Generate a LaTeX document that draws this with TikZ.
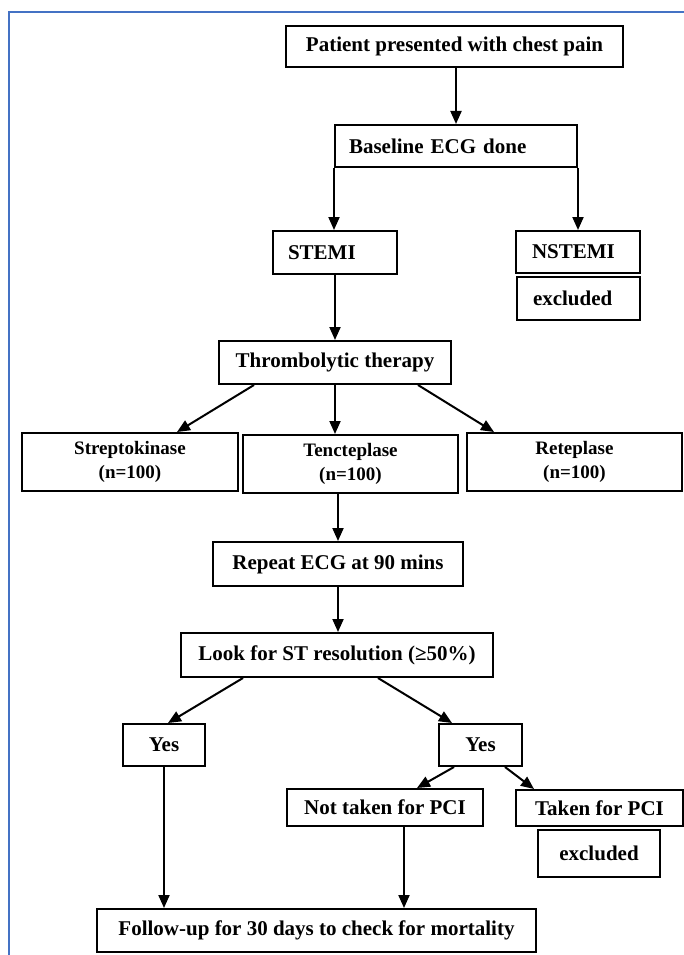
\documentclass[tikz,border=0pt]{standalone}
\usepackage{fontspec}
\setmainfont{Liberation Serif}
\usetikzlibrary{arrows.meta}
\definecolor{frameblue}{RGB}{68,114,196}
\begin{document}
\begin{tikzpicture}[x=1pt,y=-1pt,
  box/.style={draw, line width=2pt, inner sep=0pt, align=center,
    font=\fontsize{21}{24}\selectfont\bfseries},
  lbox/.style={box, align=left, inner xsep=14pt},
  smallbox/.style={box, font=\fontsize{19}{24}\selectfont\bfseries},
  arr/.style={line width=2pt, -{Triangle[length=13pt,width=11pt]}}]
\useasboundingbox (0,0) rectangle (684,955);
\fill[white] (0,0) rectangle (684,955);
\draw[frameblue, line width=2pt] (9,955) -- (9,12) -- (684,12);

\node[box, minimum width=337pt, minimum height=41pt] (patient) at (454.5,46.5) {Patient presented with chest pain};
\node[lbox, text width=214pt, minimum height=42pt] (base) at (456,146) {Baseline ECG done};
\node[lbox, inner xsep=15pt, text width=94pt, minimum height=43pt] (stemi) at (335,252.5) {STEMI};
\node[lbox, inner xsep=16pt, text width=92pt, minimum height=42pt] (nstemi) at (578,252) {NSTEMI};
\node[lbox, inner xsep=16pt, text width=91pt, minimum height=43pt] (excla) at (578.5,298.5) {excluded};
\node[box, minimum width=232pt, minimum height=43pt] (thromb) at (335,362.5) {Thrombolytic therapy};
\node[smallbox, minimum width=216pt, minimum height=58pt] (strep) at (130,462) {Streptokinase\\(n=100)};
\node[smallbox, minimum width=215pt, minimum height=58pt] (tenct) at (350.5,464) {Tencteplase\\(n=100)};
\node[smallbox, minimum width=215pt, minimum height=58pt] (retep) at (574.5,462) {Reteplase\\(n=100)};
\node[box, minimum width=250pt, minimum height=44pt] (repeat) at (338,564) {Repeat ECG at 90 mins};
\node[box, minimum width=312pt, minimum height=44pt] (look) at (337,655) {Look for ST resolution (≥50\%)};
\node[box, minimum width=82pt, minimum height=42pt] (yesl) at (164,745) {Yes};
\node[box, minimum width=83pt, minimum height=42pt] (yesr) at (480.5,745) {Yes};
\node[box, minimum width=196pt, minimum height=37pt] (notpci) at (385,807.5) {Not taken for PCI};
\node[box, minimum width=167pt, minimum height=36pt] (taken) at (599.5,808) {Taken for PCI};
\node[box, minimum width=122pt, minimum height=47pt] (exclb) at (599,853.5) {excluded};
\node[box, minimum width=439pt, minimum height=43pt] (follow) at (316.5,930.5) {Follow-up for 30 days to check for mortality};

\draw[arr] (patient.south -| base.north) -- (base.north);
\draw[arr] (base.south west) -- (base.south west |- stemi.north);
\draw[arr] (base.south east) -- (base.south east |- nstemi.north);
\draw[arr] (stemi.south) -- (stemi.south |- thromb.north);
\draw[arr] ([xshift=36pt]thromb.south west) -- ([xshift=156pt]strep.north west);
\draw[arr] (thromb.south) -- (thromb.south |- tenct.north);
\draw[arr] ([xshift=-34pt]thromb.south east) -- ([xshift=28pt]retep.north west);
\draw[arr] (repeat.north |- tenct.south) -- (repeat.north);
\draw[arr] (repeat.south) -- (repeat.south |- look.north);
\draw[arr] ([xshift=63pt]look.south west) -- ([xshift=4pt]yesl.north);
\draw[arr] ([xshift=198pt]look.south west) -- ([xshift=14pt]yesr.north west);
\draw[arr] ([xshift=16pt]yesr.south west) -- ([xshift=131pt]notpci.north west);
\draw[arr] ([xshift=67pt]yesr.south west) -- ([xshift=19pt]taken.north west);
\draw[arr] (yesl.south) -- (yesl.south |- follow.north);
\coordinate (nbot) at ([xshift=118pt]notpci.south west);
\draw[arr] (nbot) -- (nbot |- follow.north);
\end{tikzpicture}
\end{document}
